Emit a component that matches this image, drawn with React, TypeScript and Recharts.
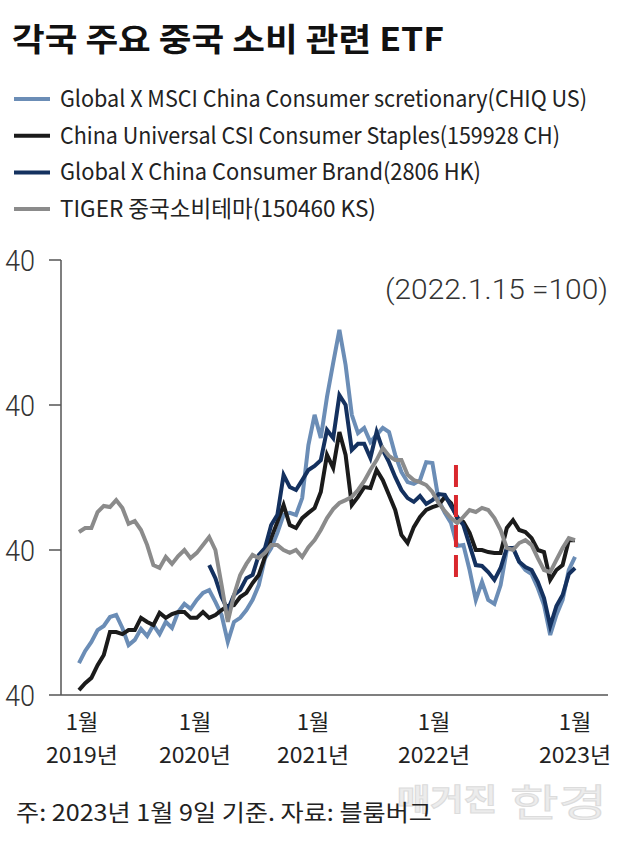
import React from 'react';
import { LineChart, Line, XAxis, YAxis, Legend, ReferenceLine } from 'recharts';

// ---- data (index, 2022.1.15 = 100) ----
const START_YEAR = 2019;
const STEP = 0.05; // ~2.6 weeks per point

const chiq = [51.0, 55.2, 58.3, 62.4, 63.8, 66.9, 67.6, 63.1, 57.2, 59.0,
  62.8, 60.3, 64.1, 61.0, 65.2, 63.1, 68.6, 71.4, 69.7, 72.8,
  75.2, 76.2, 72.1, 67.6, 58.3, 65.2, 66.6, 69.3, 72.8, 77.9,
  87.2, 90.7, 95.9, 102.1, 102.8, 102.1, 107.9, 126.2, 136.6, 128.6,
  142.8, 154.5, 165.9, 153.8, 136.6, 130.3, 132.1, 127.2, 129.7, 132.1,
  130.7, 122.8, 116.9, 113.4, 112.8, 114.1, 120.3, 120.0, 107.2, 102.8,
  99.3, 91.4, 91.7, 83.1, 72.8, 79.0, 72.8, 71.4, 77.9, 90.0,
  90.7, 85.9, 83.1, 81.7, 76.9, 71.0, 60.7, 67.6, 72.8, 83.1,
  87.6];

const staples = [41.7, 44.1, 45.9, 50.3, 53.8, 61.7, 61.7, 61.0, 62.4, 62.4,
  66.6, 65.2, 64.1, 68.3, 66.6, 67.9, 68.6, 68.6, 66.6, 66.6,
  68.6, 66.6, 67.6, 69.3, 70.7, 71.0, 73.8, 75.2, 78.6, 81.4,
  87.6, 94.1, 99.7, 105.5, 98.6, 97.6, 101.0, 102.8, 104.5, 110.0,
  122.8, 118.3, 130.7, 122.8, 105.5, 108.3, 111.7, 111.4, 117.6, 114.1,
  109.0, 103.8, 95.2, 92.4, 97.9, 101.4, 103.8, 104.8, 105.5, 108.3,
  106.2, 101.0, 99.7, 95.9, 90.0, 90.0, 89.3, 89.0, 89.0, 97.6,
  100.3, 96.9, 96.2, 94.1, 90.0, 89.3, 79.7, 83.1, 84.8, 93.4,
  93.4];

const brand = [null, null, null, null, null, null, null, null, null, null,
  null, null, null, null, null, null, null, null, null, null,
  null, 84.8, 80.3, 73.8, 69.3, 74.5, 76.2, 80.3, 81.4, 88.3,
  90.7, 98.6, 102.1, 115.9, 111.7, 110.7, 114.1, 117.6, 119.0, 121.0,
  131.4, 128.6, 143.4, 140.0, 124.5, 126.6, 126.6, 121.7, 130.7, 124.5,
  120.3, 115.2, 110.7, 107.9, 106.6, 108.6, 105.9, 107.2, 109.3, 109.0,
  105.2, 101.4, 98.6, 91.7, 84.8, 84.5, 82.4, 79.7, 83.8, 90.7,
  90.7, 85.9, 84.1, 83.1, 79.0, 73.4, 63.8, 70.7, 74.5, 81.7,
  83.8];

const tiger = [96.2, 97.6, 97.6, 103.1, 105.2, 104.8, 107.2, 104.5, 99.0, 100.0,
  96.9, 91.7, 84.8, 83.8, 87.6, 85.2, 87.9, 90.0, 87.2, 89.0,
  91.7, 94.5, 90.0, 77.9, 65.2, 74.5, 81.4, 85.2, 88.3, 87.2,
  89.0, 91.7, 91.7, 90.0, 89.0, 90.0, 87.6, 91.0, 93.4, 96.9,
  101.0, 104.1, 106.2, 107.2, 108.3, 110.7, 113.7, 117.6, 121.0, 125.2,
  122.4, 121.0, 121.0, 115.9, 114.1, 113.4, 112.4, 110.0, 106.2, 103.4,
  101.0, 99.3, 101.4, 103.8, 103.1, 104.5, 103.8, 101.0, 96.9, 90.7,
  90.0, 92.4, 93.4, 91.7, 87.2, 83.1, 82.4, 86.6, 90.7, 94.1,
  93.4];

const seriesKeys = ['chiq', 'staples', 'brand', 'tiger'];
const seriesNames = [
  'Global X MSCI China Consumer scretionary(CHIQ US)',
  'China Universal CSI Consumer Staples(159928 CH)',
  'Global X China Consumer Brand(2806 HK)',
  'TIGER 중국소비테마(150460 KS)',
];
const seriesColors = ['#6b8db6', '#1b1b1b', '#14315f', '#8b8b8b'];

const xTicks = [2019.024, 2019.935, 2020.887, 2021.863, 2023.0];
const xMonthLabels = ['1월', '1월', '1월', '1월', '1월'];
const xYearLabels = ['2019년', '2020년', '2021년', '2022년', '2023년'];

const yTicks = [40, 90, 140, 190];
const yTickLabels = ['40', '40', '40', '40'];

const baseDate = 2022.04; // 2022.1.15
const baseMarkRange = [80.7, 121];

const title = '각국 주요 중국 소비 관련 ETF';
const baseNote = '(2022.1.15 =100)';
const footnote = '주: 2023년 1월 9일 기준. 자료: 블룸버그';

const rows = chiq.map((_, i) => ({
  t: START_YEAR + i * STEP,
  chiq: chiq[i],
  staples: staples[i],
  brand: brand[i],
  tiger: tiger[i],
}));

const KR = "'Noto Sans CJK KR', 'Noto Sans', sans-serif";
const NUM = "Roboto, 'Noto Sans', sans-serif";
const legendWidths = [527, 500, 421, 316];

const XTick = (props: any) => {
  const { x, y, payload } = props;
  const idx = xTicks.indexOf(payload.value);
  if (idx < 0) return null;
  return (
    <g>
      <text x={x} y={y + 27} textAnchor="middle" fontFamily={KR} fontSize={22} fill="#222">
        {xMonthLabels[idx]}
      </text>
      <text x={x} y={y + 60} textAnchor="middle" fontFamily={KR} fontSize={22} fill="#222"
        textLength={72} lengthAdjust="spacingAndGlyphs">
        {xYearLabels[idx]}
      </text>
    </g>
  );
};

const YTick = (props: any) => {
  const { x, y, payload } = props;
  const idx = yTicks.indexOf(payload.value);
  return (
    <text x={x - 12} y={y + 11} textAnchor="end" fontFamily={NUM} fontWeight={300} fontSize={29}
      fill="#333" textLength={30} lengthAdjust="spacingAndGlyphs">
      {yTickLabels[idx]}
    </text>
  );
};

const renderLegend = () => (
  <svg width={630} height={150} style={{ display: 'block', overflow: 'visible' }}>
    {seriesNames.map((name, i) => {
      const cy = 19 + i * 36.7;
      return (
        <g key={name}>
          <line x1={14} x2={50} y1={cy} y2={cy} stroke={seriesColors[i]} strokeWidth={4} />
          <text x={60} y={cy + 8} fontFamily={KR} fontSize={23} fill="#222"
            textLength={legendWidths[i]} lengthAdjust="spacingAndGlyphs">
            {name}
          </text>
        </g>
      );
    })}
  </svg>
);

export default function App() {
  return (
    <div style={{ position: 'absolute', left: 0, top: 0, width: 630, height: 844, background: '#fff', overflow: 'hidden' }}>
      <LineChart width={630} height={844} data={rows} margin={{ top: 260, right: 22, bottom: 89, left: 0 }}>
        <XAxis dataKey="t" type="number" domain={[2018.855, 2023.266]} ticks={xTicks}
          allowDataOverflow interval={0} tickLine={false}
          axisLine={{ stroke: '#555', strokeWidth: 1.5 }} height={60} tick={<XTick />} />
        <YAxis type="number" domain={[40, 190]} ticks={yTicks} allowDataOverflow interval={0}
          width={61} tickSize={12} tickLine={{ stroke: '#555', strokeWidth: 1.5 }}
          axisLine={{ stroke: '#555', strokeWidth: 1.5 }} tick={<YTick />} />
        <Legend layout="vertical" align="center" verticalAlign="middle"
          wrapperStyle={{ top: 80, left: 0, width: 630, height: 150 }} content={renderLegend} />
        {seriesKeys.map((k, i) => (
          <Line key={k} dataKey={k} name={seriesNames[i]} type="linear" stroke={seriesColors[i]}
            strokeWidth={4} dot={false} isAnimationActive={false} connectNulls={false} />
        ))}
        <ReferenceLine segment={[{ x: baseDate, y: baseMarkRange[0] }, { x: baseDate, y: baseMarkRange[1] }]}
          stroke="#d9282e" strokeWidth={4} strokeDasharray="22 8" />
      </LineChart>
      <svg width={630} height={844} style={{ position: 'absolute', left: 0, top: 0, pointerEvents: 'none' }}>
        <text x={12} y={51} fontFamily={KR} fontWeight={700} fontSize={32} fill="#111"
          textLength={432} lengthAdjust="spacingAndGlyphs">{title}</text>
        <text x={385} y={299} fontFamily={NUM} fontWeight={300} fontSize={27} fill="#333"
          textLength={223} lengthAdjust="spacingAndGlyphs">{baseNote}</text>
        <text x={397} y={810} fontFamily={KR} fontWeight={700} fontSize={30} fill="#ececec"
          stroke="#dcdcdc" strokeWidth={1} textLength={100} lengthAdjust="spacingAndGlyphs">매거진</text>
        <text x={510} y={816} fontFamily={KR} fontWeight={400} fontSize={38} fill="#ececec"
          stroke="#dcdcdc" strokeWidth={1} textLength={97} lengthAdjust="spacingAndGlyphs">한경</text>
        <text x={16} y={821} fontFamily={KR} fontSize={23} fill="#222"
          textLength={416} lengthAdjust="spacingAndGlyphs">{footnote}</text>
      </svg>
    </div>
  );
}
